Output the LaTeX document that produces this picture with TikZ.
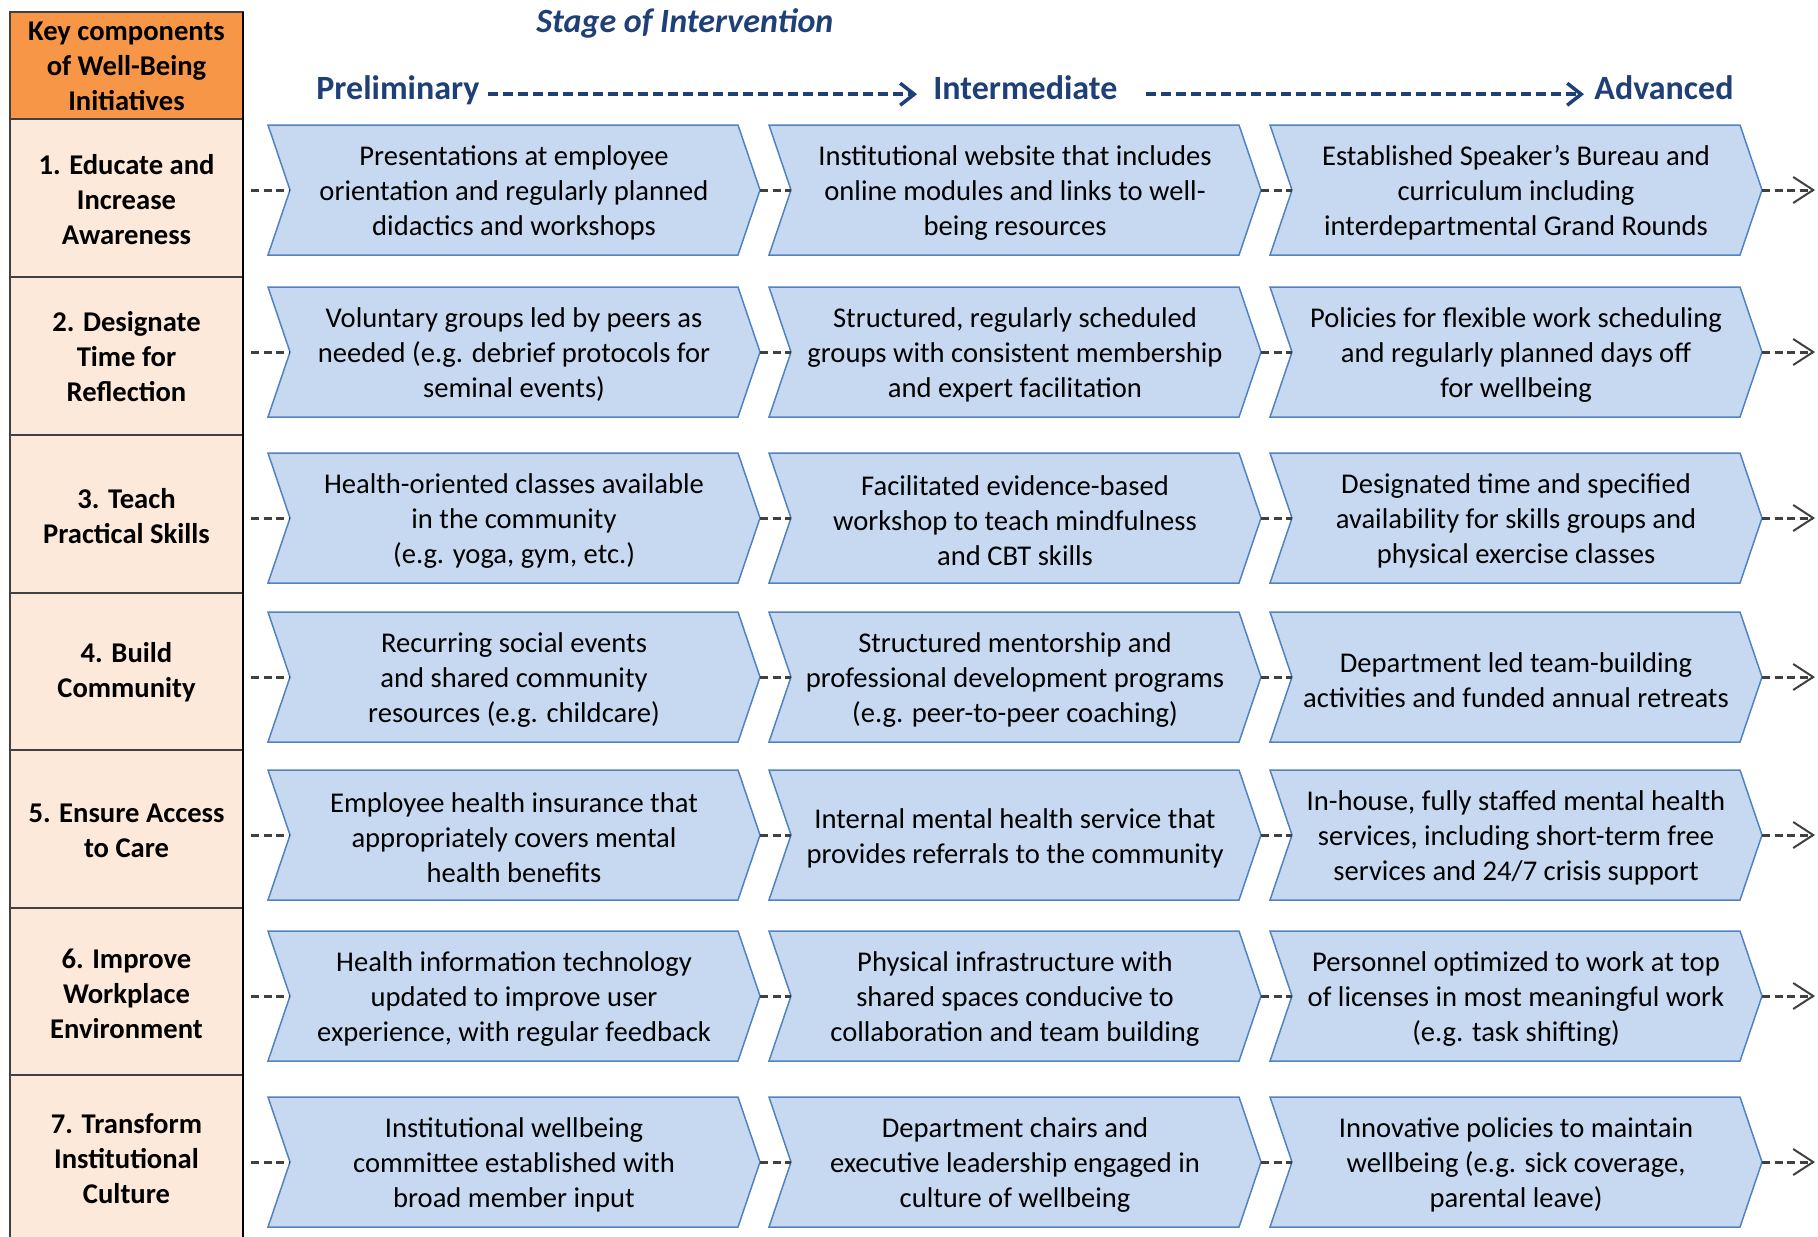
\documentclass[tikz,border=0pt]{standalone}
\usepackage{fontspec}
\setmainfont{Carlito}
\usepackage{tikz}
\usetikzlibrary{arrows.meta}
\definecolor{chevfill}{HTML}{C6D9F1}
\definecolor{chevline}{HTML}{5283C0}
\definecolor{keyfill}{HTML}{FDE9D9}
\definecolor{keyhead}{HTML}{F79646}
\definecolor{stagenavy}{HTML}{1F3F77}
\definecolor{linkgray}{HTML}{404040}

\tikzset{
  chev/.style={fill=chevfill, draw=chevline, line width=0.75pt, line join=miter},
  chevtext/.style={align=center, inner sep=0pt, yshift=-1.5pt, font=\fontsize{14.3}{17.5}\selectfont},
  keycell/.style={fill=keyfill, draw=black!75, line width=0.6pt},
  keytext/.style={align=center, inner sep=0pt, minimum width=116.5pt,
    font=\fontsize{14.3}{17.5}\selectfont\bfseries},
  link/.style={draw=linkgray, line width=1.5pt, dash pattern=on 4pt off 2.25pt},
  stagelabel/.style={inner sep=0pt, text=stagenavy, font=\fontsize{17}{20}\selectfont\bfseries},
  stagelink/.style={draw=stagenavy, line width=1.75pt, dash pattern=on 5pt off 2.5pt,
    -{Straight Barb[length=7pt,width=11pt]}}
}

\begin{document}
\begin{tikzpicture}[x=0.5pt, y=-0.5pt]
  \useasboundingbox (0,0) rectangle (1818,1236);

  % left column of key components
  \filldraw[fill=keyhead, draw=black!75, line width=0.6pt] (10,12) rectangle (243,119);
  \foreach \top/\bot in {119/277, 277/435, 435/593, 593/750, 750/908, 908/1075, 1075/1240} {
    \filldraw[keycell] (10,\top) rectangle (243,\bot);
  }
  \draw[line width=1.1pt] (243,12) -- (243,1240);

  \node[keytext] (keyhead) at (126.5,66) {Key components\\of Well-Being\\Initiatives};
  \node[keytext] (key1) at (126.5,200) {1. Educate and\\Increase\\Awareness};
  \node[keytext] (key2) at (126.5,357) {2. Designate\\Time for\\Reflection};
  \node[keytext] (key3) at (126.5,516) {3. Teach\\Practical Skills};
  \node[keytext] (key4) at (126.5,672) {4. Build\\Community};
  \node[keytext] (key5) at (126.5,831) {5. Ensure Access\\to Care};
  \node[keytext] (key6) at (126.5,994) {6. Improve\\Workplace\\Environment};
  \node[keytext] (key7) at (126.5,1159) {7. Transform\\Institutional\\Culture};

  % stage headings
  \node[stagelabel, anchor=base west, font=\fontsize{17}{20}\selectfont\bfseries\itshape]
    (stage) at (536,33) {Stage of Intervention};
  \node[stagelabel, anchor=base west] (prelim) at (316,99) {Preliminary};
  \node[stagelabel, anchor=base west] (inter) at (933,99) {Intermediate};
  \node[stagelabel, anchor=base west] (adv) at (1594,99) {Advanced};
  \draw[stagelink, shorten <=4pt, shorten >=8pt] (prelim.mid east) -- (inter.mid west);
  \draw[stagelink, shorten <=14pt, shorten >=5pt] (inter.mid east) -- (adv.mid west);

  % chevrons, with notch and tip points
  \foreach \r/\y in {1/190, 2/352, 3/518, 4/677, 5/835, 6/996, 7/1162} {
    \foreach \k/\x in {1/268, 2/769, 3/1270} {
      \filldraw[chev] (\x,\y-65) -- ++(470,0) -- ++(22,65) -- ++(-22,65)
        -- ++(-470,0) -- ++(22,-65) -- cycle;
      \coordinate (n\r\k) at (\x+22,\y);
      \coordinate (t\r\k) at (\x+492,\y);
    }
    \coordinate (out\r) at (1815,\y);
  }

  \node[chevtext] (c11) at (514,190) {Presentations at employee\\orientation and regularly planned\\didactics and workshops};
  \node[chevtext] (c12) at (1015,190) {Institutional website that includes\\online modules and links to well-\\being resources};
  \node[chevtext] (c13) at (1516,190) {Established Speaker’s Bureau and\\curriculum including\\interdepartmental Grand Rounds};

  \node[chevtext] (c21) at (514,352) {Voluntary groups led by peers as\\needed (e.g. debrief protocols for\\seminal events)};
  \node[chevtext] (c22) at (1015,352) {Structured, regularly scheduled\\groups with consistent membership\\and expert facilitation};
  \node[chevtext] (c23) at (1516,352) {Policies for flexible work scheduling\\and regularly planned days off\\for wellbeing};

  \node[chevtext] (c31) at (514,518) {Health-oriented classes available\\in the community\\(e.g. yoga, gym, etc.)};
  \node[chevtext] (c32) at (1015,518) {Facilitated evidence-based\\workshop to teach mindfulness\\and CBT skills};
  \node[chevtext] (c33) at (1516,518) {Designated time and specified\\availability for skills groups and\\physical exercise classes};

  \node[chevtext] (c41) at (514,677) {Recurring social events\\and shared community\\resources (e.g. childcare)};
  \node[chevtext] (c42) at (1015,677) {Structured mentorship and\\professional development programs\\(e.g. peer-to-peer coaching)};
  \node[chevtext] (c43) at (1516,677) {Department led team-building\\activities and funded annual retreats};

  \node[chevtext] (c51) at (514,835) {Employee health insurance that\\appropriately covers mental\\health benefits};
  \node[chevtext] (c52) at (1015,835) {Internal mental health service that\\provides referrals to the community};
  \node[chevtext] (c53) at (1516,835) {In-house, fully staffed mental health\\services, including short-term free\\services and 24/7 crisis support};

  \node[chevtext] (c61) at (514,996) {Health information technology\\updated to improve user\\experience, with regular feedback};
  \node[chevtext] (c62) at (1015,996) {Physical infrastructure with\\shared spaces conducive to\\collaboration and team building};
  \node[chevtext] (c63) at (1516,996) {Personnel optimized to work at top\\of licenses in most meaningful work\\(e.g. task shifting)};

  \node[chevtext] (c71) at (514,1162) {Institutional wellbeing\\committee established with\\broad member input};
  \node[chevtext] (c72) at (1015,1162) {Department chairs and\\executive leadership engaged in\\culture of wellbeing};
  \node[chevtext] (c73) at (1516,1162) {Innovative policies to maintain\\wellbeing (e.g. sick coverage,\\parental leave)};

  % dashed links along each row
  \foreach \r in {1,...,7} {
    \draw[link, shorten <=4pt] (key\r.east |- n\r1) -- (n\r1);
    \draw[link] (t\r1) -- (n\r2);
    \draw[link] (t\r2) -- (n\r3);
    \draw[link, -{Straight Barb[length=10pt,width=13pt,line width=1pt]}] (t\r3) -- (out\r);
  }
\end{tikzpicture}
\end{document}
